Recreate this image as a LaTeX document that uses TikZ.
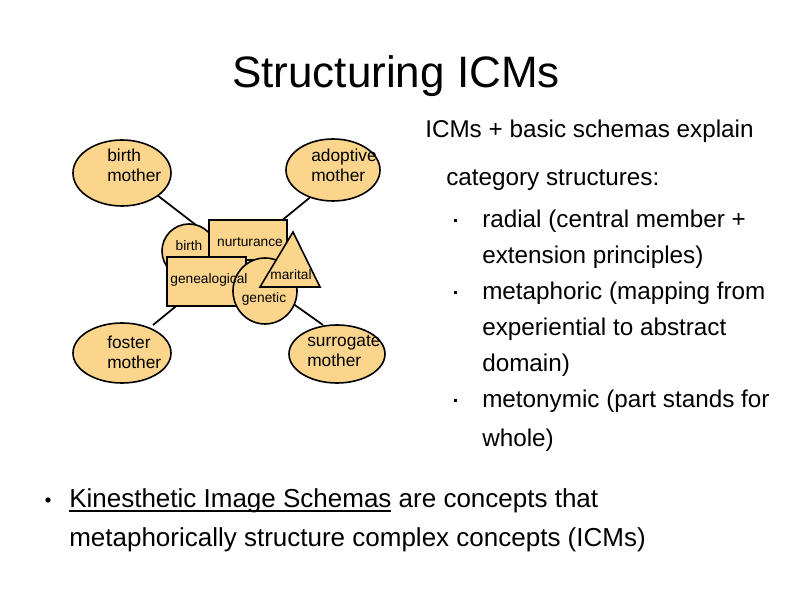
\documentclass[tikz,border=0pt]{standalone}
\usepackage{fontspec}
\setmainfont{Liberation Sans}
\begin{document}
\begin{tikzpicture}[x=0.75pt,y=-0.75pt,
  sh/.style={draw=black,line width=1.2pt,fill=fillc},
  lab/.style={font=\fontsize{13}{15}\selectfont,align=left},
  sm/.style={font=\fontsize{10.3}{12}\selectfont,inner sep=0pt},
  txt/.style={font=\fontsize{18.2}{20}\selectfont,anchor=base west,inner sep=0pt}]
\definecolor{fillc}{RGB}{251,213,140}
\useasboundingbox (0,0) rectangle (794,595);
\node[font=\fontsize{33}{38}\selectfont,anchor=base,inner sep=0pt] (title) at (396,88) {Structuring ICMs};
% connectors
\coordinate (bm) at (122,173); \coordinate (am) at (333,170);
\coordinate (fm) at (122,353); \coordinate (sm) at (337,354);
\draw[line width=1.3pt] (157,195) -- (205,232);
\draw[line width=1.3pt] (313,195) -- (280,222);
\draw[line width=1.3pt] (153,325) -- (180,303);
\draw[line width=1.3pt] (292,303) -- (323,325);
% ellipses
\draw[sh] (bm) ellipse [x radius=49,y radius=33];
\draw[sh] (am) ellipse [x radius=47,y radius=31];
\draw[sh] (fm) ellipse [x radius=49,y radius=30];
\draw[sh] (sm) ellipse [x radius=48,y radius=29];
\node[lab,anchor=north west,inner sep=0pt] (bmt) at (107,149) {birth\\mother};
\node[lab,anchor=north west,inner sep=0pt] (amt) at (311,149) {adoptive\\mother};
\node[lab,anchor=north west,inner sep=0pt] (fmt) at (107,336) {foster\\mother};
\node[lab,anchor=north west,inner sep=0pt] (smt) at (307,335) {surrogate\\mother};
% central shapes
\draw[sh] (189,251) circle [radius=27];
\node[sm] (b) at (189,246) {birth};
\draw[sh] (209,220) rectangle (287,260);
\node[sm] (n) at (250,242) {nurturance};
\draw[sh] (167,257) rectangle (246,306);
\draw[sh] (265,291) ellipse [x radius=32,y radius=33];
\draw[sh] (293,232) -- (320,287) -- (260,287) -- cycle;
\node[sm] (g) at (209,280) {genealogical};
\node[sm] (m) at (291,275) {marital};
\node[sm] (ge) at (264,299) {genetic};
% right text
\node[txt] (t1) at (425,138) {ICMs + basic schemas explain};
\node[txt] (t2) at (446,186) {category structures:};
\foreach \y/\s in {228/radial (central member +,264/extension principles),300/metaphoric (mapping from,336/experiential to abstract,372/domain),408/metonymic (part stands for,447/whole)}
  \node[txt] at (482,\y) {\s};
\foreach \y in {219,291,399} \fill (454,\y) rectangle (457,\y+3);
\fill (48,500) circle [radius=2.7];
\node[txt,font=\fontsize{19.5}{20}\selectfont] (k1) at (69,508) {Kinesthetic Image Schemas are concepts that};
\draw[line width=0.9pt] (69,511) -- (391,511);
\node[txt,font=\fontsize{19.5}{20}\selectfont] (k2) at (69,547) {metaphorically structure complex concepts (ICMs)};
\end{tikzpicture}
\end{document}
